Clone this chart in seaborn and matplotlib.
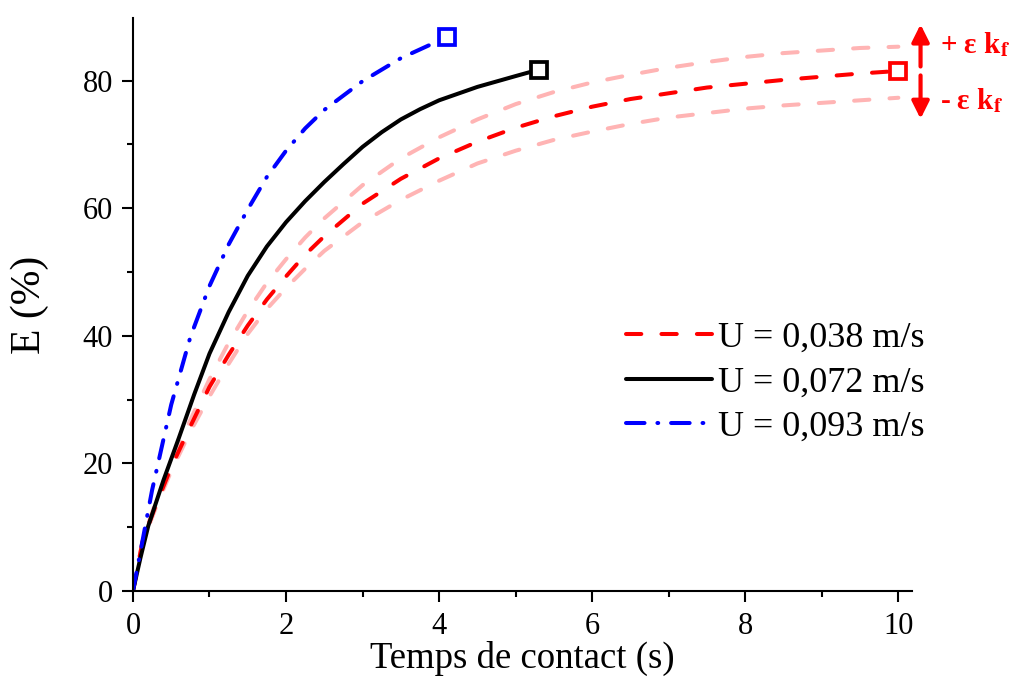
import numpy as np
import pandas as pd
import seaborn as sns
import matplotlib.pyplot as plt

# values
t_red = [0, 0.13, 0.3, 0.5, 0.75, 1.0, 1.25, 1.5, 1.75, 2.0, 2.25, 2.5, 3.0, 3.5, 4.0, 4.5,
         5.0, 5.5, 6.0, 6.5, 7.0, 7.5, 8.0, 8.5, 9.0, 9.5, 10.0]
e_red = [0, 8.0, 13.5, 19.4, 25.8, 32.0, 37.0, 41.6, 45.7, 49.3, 52.7, 55.6, 60.7, 64.6, 67.8, 70.4,
         72.6, 74.4, 75.9, 77.1, 78.0, 78.9, 79.5, 80.1, 80.6, 81.1, 81.5]
e_red_up = [0, 8.1, 14.0, 20.2, 26.8, 33.2, 38.9, 43.9, 48.3, 52.0, 55.4, 58.4, 63.6, 67.8, 71.1, 73.9,
            76.3, 78.2, 79.7, 80.9, 82.0, 82.9, 83.7, 84.3, 84.7, 85.1, 85.3]
e_red_lo = [0, 7.8, 13.1, 18.8, 25.0, 30.5, 35.6, 40.3, 44.2, 47.5, 50.5, 53.3, 57.8, 61.3, 64.3, 67.0,
            69.0, 70.7, 72.0, 73.2, 74.2, 74.9, 75.6, 76.1, 76.5, 76.9, 77.3]

t_black = [0, 0.1, 0.2, 0.4, 0.6, 0.8, 1.0, 1.25, 1.5, 1.75, 2.0, 2.25, 2.5, 2.75, 3.0, 3.25,
           3.5, 3.75, 4.0, 4.5, 5.0, 5.3]
e_black = [0, 5.3, 10.2, 17.4, 24.0, 30.8, 37.2, 43.7, 49.4, 54.0, 57.8, 61.1, 64.1, 66.9, 69.6, 71.9,
           73.9, 75.5, 76.9, 79.0, 80.7, 81.7]

t_blue = [0, 0.1, 0.25, 0.5, 0.75, 1.0, 1.25, 1.5, 1.75, 2.0, 2.25, 2.5, 3.0, 3.5, 4.1]
e_blue = [0, 6.3, 15.8, 29.2, 39.8, 47.8, 54.3, 59.8, 64.9, 69.0, 72.5, 75.4, 79.9, 83.5, 86.8]

labels = ['U = 0,038 m/s', 'U = 0,072 m/s', 'U = 0,093 m/s']

sns.set_theme(style="ticks")
plt.rcParams['font.family'] = ['Liberation Serif', 'DejaVu Serif']
plt.rcParams['mathtext.fontset'] = 'stix'
plt.rcParams['text.color'] = 'black'
plt.rcParams['axes.labelcolor'] = 'black'

fig = plt.figure(figsize=(10.18, 6.79), dpi=100)
ax = fig.add_axes([0.1306, 0.1296, 0.7654, 0.8439])

lw = 2.9
dash = (3.8, 5.0)
light = '#ffb4b4'
sns.lineplot(x=t_red, y=e_red_up, ax=ax, color=light, lw=lw)
sns.lineplot(x=t_red, y=e_red_lo, ax=ax, color=light, lw=lw)
sns.lineplot(x=t_red, y=e_red, ax=ax, color='red', lw=lw, label=labels[0])
for ln in ax.lines:
    ln.set_dashes(dash)
sns.lineplot(x=t_black, y=e_black, ax=ax, color='black', lw=lw, label=labels[1])
sns.lineplot(x=t_blue, y=e_blue, ax=ax, color='blue', lw=lw, label=labels[2])
ax.lines[-1].set_dashes((4.6, 3.2, 0.2, 3.2))
for ln in ax.lines:
    ln.set_dash_capstyle('round')

# open squares at the end of each curve
ends = pd.DataFrame({'t': [t_red[-1], t_black[-1], t_blue[-1]],
                     'e': [e_red[-1], e_black[-1], e_blue[-1]],
                     'c': ['red', 'black', 'blue']})
for _, r in ends.iterrows():
    ax.plot(r['t'], r['e'], marker='s', ms=12, mfc='white', mec=r['c'], mew=2.7,
            clip_on=False, zorder=5)

ax.set_xlim(0, 10.18)
ax.set_ylim(0, 89.8)
ax.set_xticks([0, 2, 4, 6, 8, 10])
ax.set_xticks([1, 3, 5, 7, 9], minor=True)
ax.set_yticks([0, 20, 40, 60, 80])
ax.set_yticks([10, 30, 50, 70], minor=True)
ax.tick_params(which='major', length=8, width=1.5, labelsize=22, colors='black', pad=6.5)
ax.tick_params(which='minor', length=4.5, width=1.5, colors='black')
ax.tick_params(axis='x', which='major', pad=7)
for s in ['left', 'bottom']:
    ax.spines[s].set_linewidth(1.5)
    ax.spines[s].set_color('black')
sns.despine(ax=ax)

ax.set_xlabel('Temps de contact (s)', fontsize=26.5, labelpad=0, color='black')
ax.set_ylabel('E (%)', fontsize=30, labelpad=24, color='black')

leg = ax.legend(loc='upper left', bbox_to_anchor=(0.614, 0.495), frameon=False,
                borderaxespad=0, fontsize=26, handlelength=2.4, handletextpad=0.15,
                labelspacing=0.31, labelcolor='black')

# epsilon k_f arrows
ax.annotate('', xy=(10.29, 88.8), xytext=(10.29, 82.2), annotation_clip=False,
            arrowprops=dict(arrowstyle='-|>', color='red', lw=3, mutation_scale=26,
                            shrinkA=0, shrinkB=0))
ax.annotate('', xy=(10.29, 74.0), xytext=(10.29, 80.8), annotation_clip=False,
            arrowprops=dict(arrowstyle='-|>', color='red', lw=3, mutation_scale=26,
                            shrinkA=0, shrinkB=0))
ax.text(10.55, 85.6, r'+ ε k$_\mathbf{f}$', color='red', fontsize=21, fontweight='bold',
        va='center', ha='left', clip_on=False)
ax.text(10.55, 76.9, r'- ε k$_\mathbf{f}$', color='red', fontsize=21, fontweight='bold',
        va='center', ha='left', clip_on=False)

fig.savefig('out.png', dpi=100)
